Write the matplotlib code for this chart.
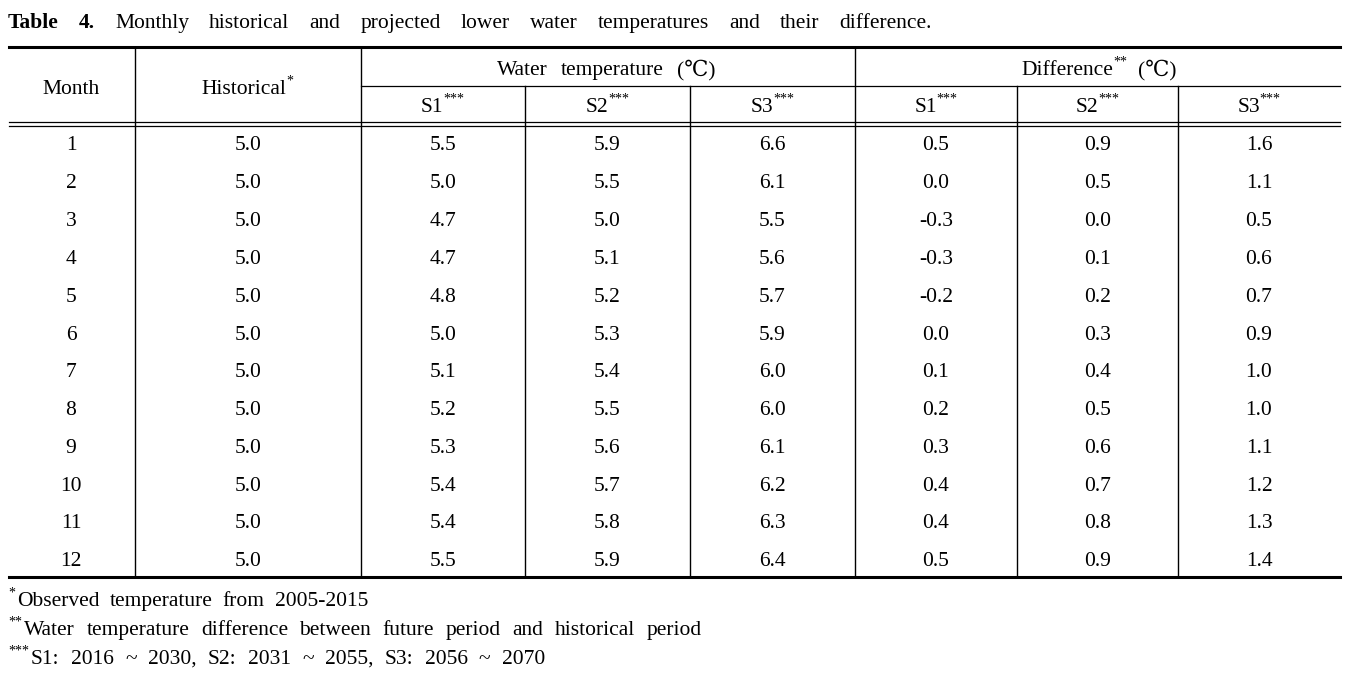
import matplotlib.pyplot as plt

FAM = ['Liberation Serif', 'DejaVu Serif', 'DejaVu Sans']
SIZE = 15.5
SUP = 10

months = list(range(1, 13))
historical = [5.0] * 12
s1 = [5.5, 5.0, 4.7, 4.7, 4.8, 5.0, 5.1, 5.2, 5.3, 5.4, 5.4, 5.5]
s2 = [5.9, 5.5, 5.0, 5.1, 5.2, 5.3, 5.4, 5.5, 5.6, 5.7, 5.8, 5.9]
s3 = [6.6, 6.1, 5.5, 5.6, 5.7, 5.9, 6.0, 6.0, 6.1, 6.2, 6.3, 6.4]
d1 = [0.5, 0.0, -0.3, -0.3, -0.2, 0.0, 0.1, 0.2, 0.3, 0.4, 0.4, 0.5]
d2 = [0.9, 0.5, 0.0, 0.1, 0.2, 0.3, 0.4, 0.5, 0.6, 0.7, 0.8, 0.9]
d3 = [1.6, 1.1, 0.5, 0.6, 0.7, 0.9, 1.0, 1.0, 1.1, 1.2, 1.3, 1.4]

title_words = ["Table", "4.", "Monthly", "historical", "and", "projected", "lower",
               "water", "temperatures", "and", "their", "difference."]
notes = [
    ("*", "Observed temperature from 2005-2015"),
    ("**", "Water temperature difference between future period and historical period"),
    ("***", "S1: 2016 ~ 2030, S2: 2031 ~ 2055, S3: 2056 ~ 2070"),
]

fig = plt.figure(figsize=(13.61, 6.78), dpi=100)
ax = fig.add_axes([0, 0, 1, 1])
ax.set_xlim(0, 1361)
ax.set_ylim(678, 0)
ax.axis('off')
renderer = fig.canvas.get_renderer()


def width(txt, size=SIZE, weight='normal'):
    t = ax.text(0, 0, txt, fontsize=size, fontweight=weight, family=FAM)
    w = t.get_window_extent(renderer).width
    t.remove()
    return w


def put(x, y, txt, size=SIZE, weight='normal', ha='left'):
    ax.text(x, y, txt, fontsize=size, fontweight=weight, family=FAM,
            ha=ha, va='baseline', color='black')


def sup_label(cx, y, main, sup, tail=None):
    wm = width(main)
    ws = width(sup, SUP)
    total = wm + ws
    wt = 0
    if tail:
        wt = width(tail)
        total += 10 + wt
    x = cx - total / 2
    put(x, y, main)
    put(x + wm, y - 9, sup, SUP)
    if tail:
        put(x + wm + ws + 10, y, tail)


def justify(words, x0, x1, y, bold=0):
    ws = [width(w, SIZE, 'bold' if i < bold else 'normal') for i, w in enumerate(words)]
    gap = (x1 - x0 - sum(ws)) / (len(words) - 1)
    x = x0
    for i, w in enumerate(words):
        put(x, y, w, weight='bold' if i < bold else 'normal')
        x += ws[i] + gap


# title
justify(title_words, 8, 932, 28, bold=2)

# rules
L, R = 9, 1340
ax.plot([L, R], [47, 47], color='black', lw=2.2)
ax.plot([360.7, R], [86, 86], color='black', lw=0.9)
ax.plot([L, R], [121.5, 121.5], color='black', lw=0.9)
ax.plot([L, R], [125.5, 125.5], color='black', lw=0.9)
ax.plot([L, R], [577, 577], color='black', lw=2.2)
for x in [134.7, 360.7, 855]:
    ax.plot([x, x], [47, 577], color='black', lw=1.0)
for x in [525, 690, 1017, 1178]:
    ax.plot([x, x], [86, 577], color='black', lw=1.0)

# header
put(71, 94, "Month", ha='center')
sup_label(247.7, 94, "Historical", "*")
justify(["Water", "temperature", "(℃)"], 497, 716, 75)
sup_label(1099, 75, "Difference", "**", "(℃)")
centers = [442.8, 607.5, 772.5, 936, 1097.5, 1259]
for cx, lab in zip(centers, ["S1", "S2", "S3", "S1", "S2", "S3"]):
    sup_label(cx, 112, lab, "***")

# body
cols = [historical, s1, s2, s3, d1, d2, d3]
for i, m in enumerate(months):
    y = 150.5 + i * 37.8
    put(71, y, str(m), ha='center')
    for cx, col in zip([247.7] + centers, cols):
        put(cx, y, f"{col[i]:.1f}", ha='center')

# footnotes
ends = [368, 702, 545]
for k, (mark, text) in enumerate(notes):
    y = 606 + k * 29
    put(8, y - 9, mark, SUP)
    x0 = 9 + width(mark, SUP) + 1
    justify(text.split(), x0, ends[k], y)

fig.savefig('out.png', dpi=100)
